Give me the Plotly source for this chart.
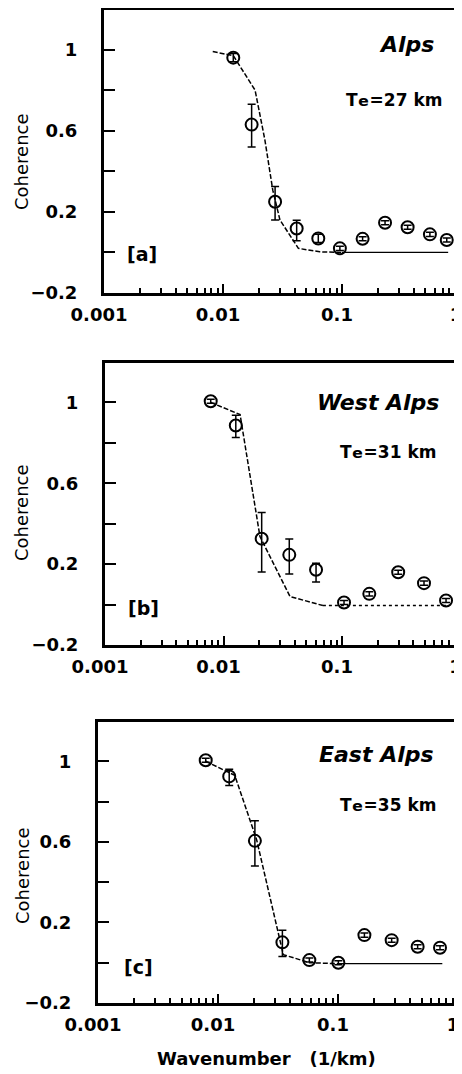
import plotly.graph_objects as go

# ---------------- data ----------------
# Panel a (Alps)
xa = [0.0122, 0.0174, 0.0274, 0.0416, 0.0632, 0.096, 0.149, 0.230, 0.356, 0.548, 0.759]
ya = [0.96, 0.63, 0.25, 0.118, 0.069, 0.020, 0.067, 0.146, 0.124, 0.089, 0.061]
ea_plus = [0.02, 0.10, 0.075, 0.04, 0.02, 0.01, 0.01, 0.01, 0.01, 0.01, 0.01]
ea_minus = [0.02, 0.11, 0.09, 0.06, 0.02, 0.01, 0.01, 0.01, 0.01, 0.01, 0.01]
mxa_dash = [0.0082, 0.0122, 0.0186, 0.0225, 0.0262, 0.0301, 0.043, 0.065, 0.1]
mya_dash = [0.99, 0.97, 0.80, 0.554, 0.307, 0.16, 0.02, 0.003, 0.0]
mxa_tail = [0.1, 0.78]
mya_tail = [0.0, 0.0]

# Panel b (West Alps)
xb = [0.0078, 0.0127, 0.021, 0.0359, 0.0604, 0.104, 0.170, 0.298, 0.492, 0.755]
yb = [1.006, 0.886, 0.326, 0.246, 0.172, 0.01, 0.053, 0.16, 0.106, 0.02]
eb_plus = [0.01, 0.05, 0.13, 0.078, 0.033, 0.01, 0.01, 0.01, 0.01, 0.01]
eb_minus = [0.01, 0.06, 0.165, 0.095, 0.06, 0.01, 0.01, 0.01, 0.01, 0.01]
mxb_dash = [0.0078, 0.0138, 0.0203, 0.0364, 0.069]
myb_dash = [1.0, 0.94, 0.337, 0.04, -0.005]
mxb_tail = [0.069, 0.76]
myb_tail = [-0.005, -0.005]

# Panel c (East Alps)
xc = [0.0079, 0.0124, 0.0203, 0.0344, 0.0577, 0.1007, 0.166, 0.28, 0.461, 0.708]
yc = [1.005, 0.925, 0.605, 0.101, 0.013, 0.0, 0.137, 0.112, 0.079, 0.074]
ec_plus = [0.01, 0.035, 0.10, 0.06, 0.01, 0.01, 0.01, 0.01, 0.01, 0.01]
ec_minus = [0.01, 0.045, 0.125, 0.07, 0.01, 0.01, 0.01, 0.01, 0.01, 0.01]
mxc_dash = [0.0079, 0.0138, 0.021, 0.035, 0.058, 0.1]
myc_dash = [1.0, 0.93, 0.61, 0.04, 0.0, -0.005]
mxc_tail = [0.1, 0.74]
myc_tail = [-0.005, -0.005]

y_tickvals = [-0.2, 0.2, 0.6, 1.0]
y_ticktext = ["\u22120.2", "0.2", "0.6", "1"]
y_minor = [0.0, 0.4, 0.8]
x_tickvals = [0.001, 0.01, 0.1, 1]
x_ticktext = ["0.001", "0.01", "0.1", "1"]
x_minor = [m * 10 ** e for e in (-3, -2, -1) for m in range(2, 10)]

panel_names = ["Alps", "West Alps", "East Alps"]
te_values = ["27", "31", "35"]
panel_tags = ["[a]", "[b]", "[c]"]

# ---------------- figure ----------------
# page body has an 8px margin: figure covers screen pixels 8..462 x 8..1074
OFF = 8
W, H = 462 - OFF, 1074 - OFF
fig = go.Figure()

panels = [
    dict(x=xa, y=ya, ep=ea_plus, em=ea_minus, mxd=mxa_dash, myd=mya_dash, mxt=mxa_tail, myt=mya_tail, tail="solid"),
    dict(x=xb, y=yb, ep=eb_plus, em=eb_minus, mxd=mxb_dash, myd=myb_dash, mxt=mxb_tail, myt=myb_tail, tail="dot"),
    dict(x=xc, y=yc, ep=ec_plus, em=ec_minus, mxd=mxc_dash, myd=myc_dash, mxt=mxc_tail, myt=myc_tail, tail="solid"),
]

for i, p in enumerate(panels):
    sfx = "" if i == 0 else str(i + 1)
    xr, yr = "x" + sfx, "y" + sfx
    fig.add_trace(go.Scatter(x=p["mxd"], y=p["myd"], mode="lines", xaxis=xr, yaxis=yr,
                             line=dict(color="black", width=1.5, dash="5px,2px"), showlegend=False))
    fig.add_trace(go.Scatter(x=p["mxt"], y=p["myt"], mode="lines", xaxis=xr, yaxis=yr,
                             line=dict(color="black", width=1.3 if p["tail"] == "solid" else 1.5,
                                       dash=p["tail"]), showlegend=False))
    fig.add_trace(go.Scatter(x=p["x"], y=p["y"], mode="markers", xaxis=xr, yaxis=yr,
                             marker=dict(symbol="circle-open", size=12, color="black",
                                         line=dict(width=2, color="black")),
                             error_y=dict(type="data", symmetric=False, array=p["ep"], arrayminus=p["em"],
                                          color="black", thickness=1.5, width=4),
                             showlegend=False))

def PX(sx):
    return (sx - OFF) / W

def PY(sy):
    return 1 - (sy - OFF) / H

# domains in screen pixels: (left, right, top, bottom)
doms = [(104, 461, 10, 293), (105, 460.5, 363, 645), (98, 458, 722, 1003)]

font_tick = dict(family="DejaVu Sans", size=18, color="black", weight="bold")
for i, (l, r, t, b) in enumerate(doms):
    sfx = "" if i == 0 else str(i + 1)
    fig.layout["xaxis" + sfx] = dict(
        type="log", range=[-3, 0], domain=[PX(l), PX(r)], anchor="y" + sfx, automargin=False,
        tickvals=x_tickvals, ticktext=x_ticktext, ticks="inside", ticklen=9, tickwidth=1.5,
        tickcolor="black", showline=True, linewidth=3, linecolor="black", mirror=True,
        showgrid=False, zeroline=False, tickfont=font_tick, ticklabelstandoff=3,
        ticklabelshift=-5, ticklabeloverflow="allow",
        minor=dict(tickvals=x_minor, ticks="inside", ticklen=5, tickwidth=1.5, tickcolor="black", showgrid=False),
    )
    fig.layout["yaxis" + sfx] = dict(
        range=[-0.2, 1.195], domain=[PY(b), PY(t)], anchor="x" + sfx, automargin=False,
        tickvals=y_tickvals, ticktext=y_ticktext, ticks="inside", ticklen=11, tickwidth=1.5,
        tickcolor="black", showline=True, linewidth=3, linecolor="black", mirror=True,
        showgrid=False, zeroline=False, tickfont=font_tick, ticklabelstandoff=20,
        ticklabeloverflow="allow",
        minor=dict(tickvals=y_minor, ticks="inside", ticklen=11, tickwidth=1.5, tickcolor="black", showgrid=False),
    )

ann = []
name_pos = [(406, 45), (378, 402), (376, 754)]
te_pos = [(394, 97), (388, 450), (388, 802)]
tag_pos = [(142, 254), (143, 608), (138, 967)]
coh_pos = [(22, 162), (22, 513), (22, 876)]
for i in range(3):
    ann.append(dict(x=PX(name_pos[i][0]), y=PY(name_pos[i][1]), text="<b><i>" + panel_names[i] + "</i></b>",
                    font=dict(family="DejaVu Sans", size=22, color="black")))
    ann.append(dict(x=PX(te_pos[i][0]), y=PY(te_pos[i][1]),
                    text="T<span style='font-size:25px'>\u2091</span>=" + te_values[i] + " km",
                    font=dict(family="DejaVu Sans", size=17, color="black", weight="bold")))
    ann.append(dict(x=PX(tag_pos[i][0]), y=PY(tag_pos[i][1]), text=panel_tags[i],
                    font=dict(family="DejaVu Sans", size=19, color="black", weight="bold")))
    ann.append(dict(x=PX(coh_pos[i][0]), y=PY(coh_pos[i][1]), text="Coherence", textangle=-90,
                    font=dict(family="DejaVu Sans", size=18, color="black")))
ann.append(dict(x=PX(266), y=PY(1058), text="Wavenumber\u00a0\u00a0\u00a0(1/km)",
                font=dict(family="DejaVu Sans", size=18, color="black", weight="bold")))
for a in ann:
    a.update(xref="paper", yref="paper", xanchor="center", yanchor="middle", showarrow=False)

fig.update_layout(
    width=W, height=H, margin=dict(l=0, r=0, t=0, b=0),
    paper_bgcolor="white", plot_bgcolor="white", annotations=ann, showlegend=False,
)

fig.write_html("out.html")
